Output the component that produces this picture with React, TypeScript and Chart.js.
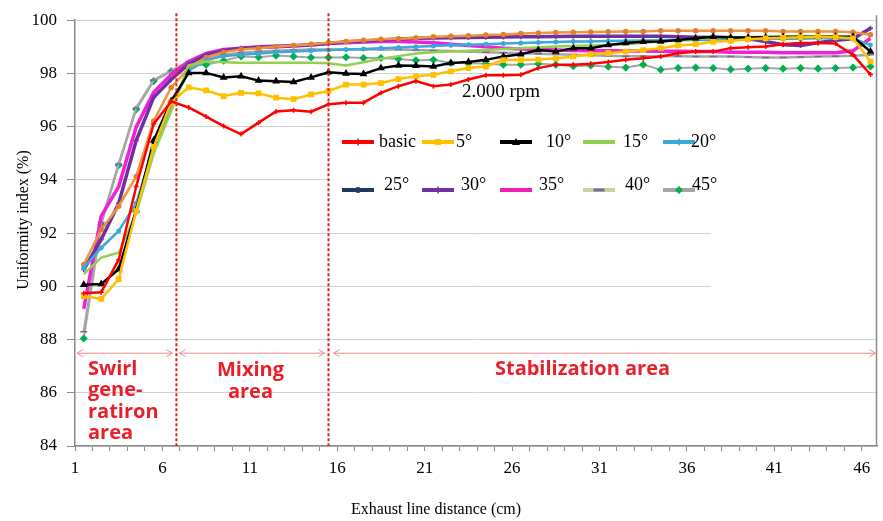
import React, { useEffect, useRef } from 'react';
import { Chart, registerables } from 'chart.js';

Chart.register(...registerables);

// ---------- data ----------
const DISTANCE = [1, 2, 3, 4, 5, 6, 7, 8, 9, 10, 11, 12, 13, 14, 15, 16, 17, 18, 19, 20, 21, 22, 23, 24, 25, 26, 27, 28, 29, 30, 31, 32, 33, 34, 35, 36, 37, 38, 39, 40, 41, 42, 43, 44, 45, 46];
const X_TICK_LABELS = [1, 6, 11, 16, 21, 26, 31, 36, 41, 46];
const Y_MIN = 84;
const Y_MAX = 100;
const Y_STEP = 2;

const SERIES_NAMES = ['basic', '5°', '10°', '15°', '20°', '25°', '30°', '35°', '40°', '45°'];

const BASIC = [89.74, 89.78, 91.0, 93.75, 96.1, 96.95, 96.72, 96.38, 96.02, 95.72,
  96.15, 96.57, 96.62, 96.56, 96.84, 96.9, 96.9, 97.27, 97.52, 97.71,
  97.52, 97.58, 97.77, 97.93, 97.93, 97.95, 98.2, 98.33, 98.33, 98.36,
  98.43, 98.51, 98.57, 98.64, 98.76, 98.82, 98.82, 98.95, 98.98, 99.01,
  99.1, 99.14, 99.14, 99.12, 98.7, 97.96];
const DEG5 = [89.63, 89.53, 90.27, 92.83, 95.24, 96.91, 97.48, 97.36, 97.15, 97.27,
  97.25, 97.09, 97.03, 97.21, 97.34, 97.58, 97.58, 97.64, 97.79, 97.89,
  97.95, 98.08, 98.2, 98.26, 98.5, 98.5, 98.52, 98.57, 98.64, 98.72,
  98.76, 98.82, 98.88, 98.95, 99.05, 99.1, 99.19, 99.22, 99.28, 99.32,
  99.34, 99.36, 99.38, 99.36, 99.32, 98.45];
const DEG10 = [90.06, 90.09, 90.64, 92.87, 95.48, 96.96, 98.02, 98.02, 97.85, 97.89,
  97.73, 97.71, 97.68, 97.85, 98.04, 98.0, 97.98, 98.2, 98.3, 98.29,
  98.26, 98.39, 98.43, 98.51, 98.64, 98.72, 98.88, 98.82, 98.95, 98.95,
  99.07, 99.14, 99.19, 99.2, 99.26, 99.32, 99.38, 99.35, 99.35, 99.36,
  99.37, 99.38, 99.38, 99.38, 99.38, 98.82];
const DEG15 = [90.46, 91.08, 91.26, 92.75, 94.98, 96.59, 98.3, 98.45, 98.42, 98.4,
  98.4, 98.4, 98.4, 98.4, 98.38, 98.3, 98.42, 98.55, 98.65, 98.75,
  98.8, 98.82, 98.85, 98.88, 98.92, 98.95, 98.98, 99.01, 99.03, 99.05,
  99.07, 99.1, 99.15, 99.2, 99.25, 99.3, 99.32, 99.35, 99.37, 99.38,
  99.4, 99.4, 99.4, 99.4, 99.35, 98.82];
const DEG20 = [90.7, 91.45, 92.08, 93.12, 95.24, 96.73, 98.1, 98.5, 98.65, 98.7,
  98.75, 98.8, 98.82, 98.85, 98.88, 98.9, 98.92, 98.95, 98.97, 99.0,
  99.03, 99.06, 99.08, 99.1, 99.12, 99.14, 99.16, 99.18, 99.2, 99.2,
  99.22, 99.23, 99.24, 99.25, 99.25, 99.26, 99.27, 99.28, 99.28, 99.3,
  99.3, 99.3, 99.32, 99.32, 99.3, 99.07];
const DEG25 = [90.82, 92.13, 93.01, 94.13, 96.21, 97.47, 98.2, 98.6, 98.8, 98.9,
  98.95, 99.0, 99.05, 99.1, 99.15, 99.2, 99.25, 99.28, 99.3, 99.33,
  99.38, 99.4, 99.42, 99.44, 99.46, 99.5, 99.52, 99.54, 99.55, 99.56,
  99.57, 99.58, 99.58, 99.6, 99.6, 99.6, 99.6, 99.6, 99.6, 99.6,
  99.58, 99.58, 99.58, 99.58, 99.55, 99.45];
const DEG30 = [90.63, 91.76, 93.12, 95.48, 97.1, 97.77, 98.35, 98.7, 98.85, 98.95,
  98.97, 99.0, 99.03, 99.07, 99.12, 99.19, 99.22, 99.26, 99.29, 99.32,
  99.33, 99.34, 99.35, 99.36, 99.37, 99.38, 99.38, 99.39, 99.4, 99.4,
  99.4, 99.4, 99.4, 99.4, 99.38, 99.36, 99.35, 99.35, 99.3, 99.2,
  99.08, 99.05, 99.15, 99.25, 99.3, 99.7];
const DEG35 = [89.15, 92.64, 93.75, 95.99, 97.29, 97.96, 98.45, 98.75, 98.9, 98.95,
  99.0, 99.02, 99.05, 99.08, 99.12, 99.15, 99.18, 99.2, 99.2, 99.18,
  99.15, 99.1, 99.05, 99.0, 98.95, 98.92, 98.9, 98.88, 98.86, 98.85,
  98.85, 98.84, 98.84, 98.83, 98.83, 98.82, 98.82, 98.8, 98.8, 98.8,
  98.78, 98.78, 98.78, 98.78, 98.85, 99.32];
const DEG40 = [88.29, 92.4, 94.6, 96.7, 97.75, 98.1, 98.45, 98.6, 98.7, 98.78,
  98.82, 98.85, 98.88, 98.9, 98.9, 98.9, 98.9, 98.9, 98.9, 98.88,
  98.86, 98.84, 98.82, 98.8, 98.78, 98.76, 98.74, 98.72, 98.7, 98.68,
  98.66, 98.65, 98.65, 98.65, 98.65, 98.64, 98.64, 98.64, 98.62, 98.6,
  98.6, 98.62, 98.64, 98.65, 98.66, 98.7];
const DEG45 = [88.04, 92.32, 94.55, 96.65, 97.71, 98.08, 98.3, 98.33, 98.48, 98.64,
  98.61, 98.67, 98.64, 98.6, 98.6, 98.61, 98.58, 98.58, 98.54, 98.49,
  98.51, 98.39, 98.39, 98.36, 98.33, 98.33, 98.36, 98.33, 98.27, 98.3,
  98.25, 98.22, 98.33, 98.14, 98.2, 98.22, 98.2, 98.15, 98.18, 98.2,
  98.18, 98.2, 98.18, 98.2, 98.22, 98.26];

const SERIES_VALUES = [BASIC, DEG5, DEG10, DEG15, DEG20, DEG25, DEG30, DEG35, DEG40, DEG45];

// area boundaries (in x-axis units) and labels
const AREA_BOUNDS = [6.3, 15.0];
const RPM_LABEL = '2.000 rpm';

// ---------- styles ----------
const LINE_COLORS = ['#ff0000', '#ffc000', '#000000', '#92d050', '#3aa8d8', '#f0953f', '#7030a0', '#f020d8', '#a6a6a6', '#a6a6a6'];
const LEGEND_COLORS = ['#ff0000', '#ffc000', '#000000', '#92d050', '#3aa8d8', '#1f3864', '#7030a0', '#f020b0', '#c3d69b', '#a6a6a6'];
const POINT_COLORS = ['#ff0000', '#ffc000', '#000000', '#92d050', '#3aa8d8', '#e07f30', '#7030a0', '#f020d8', '#8064a2', '#00b050'];
const POINT_STYLES = ['cross', 'rect', 'triangle', 'circle', 'star', 'circle', 'cross', 'circle', 'line', 'rectRot'];
const POINT_RADII = [2.5, 3, 3, 0, 2.5, 2, 2.5, 0, 3.5, 3];
const LINE_WIDTHS = [2.5, 2.5, 2.5, 2.5, 2.5, 2.5, 3.5, 3.5, 2.5, 2];

const SERIF = "'Liberation Serif', 'Times New Roman', serif";
const SANS = "'Open Sans', 'Noto Sans', sans-serif";

function drawMarker(ctx: CanvasRenderingContext2D, style: string, x: number, y: number, r: number, color: string) {
  if (r <= 0) return;
  ctx.save();
  ctx.fillStyle = color;
  ctx.strokeStyle = color;
  ctx.lineWidth = 1.5;
  ctx.beginPath();
  if (style === 'rect') {
    ctx.fillRect(x - r, y - r, 2 * r, 2 * r);
  } else if (style === 'triangle') {
    ctx.moveTo(x, y - r - 1);
    ctx.lineTo(x + r + 1, y + r);
    ctx.lineTo(x - r - 1, y + r);
    ctx.closePath();
    ctx.fill();
  } else if (style === 'rectRot') {
    ctx.moveTo(x, y - r - 1);
    ctx.lineTo(x + r + 1, y);
    ctx.lineTo(x, y + r + 1);
    ctx.lineTo(x - r - 1, y);
    ctx.closePath();
    ctx.fill();
  } else if (style === 'cross' || style === 'star') {
    ctx.moveTo(x - r - 1, y);
    ctx.lineTo(x + r + 1, y);
    ctx.moveTo(x, y - r - 1);
    ctx.lineTo(x, y + r + 1);
    ctx.stroke();
  } else if (style === 'line') {
    ctx.lineWidth = 3;
    ctx.moveTo(x - r - 2, y);
    ctx.lineTo(x + r + 2, y);
    ctx.stroke();
  } else {
    ctx.arc(x, y, r + 1, 0, Math.PI * 2);
    ctx.fill();
  }
  ctx.restore();
}

function arrowHead(ctx: CanvasRenderingContext2D, x: number, y: number, dir: number) {
  ctx.moveTo(x - dir * 6, y - 3.5);
  ctx.lineTo(x, y);
  ctx.lineTo(x - dir * 6, y + 3.5);
}

const overlayPlugin = {
  id: 'overlay',
  beforeDatasetsDraw(chart: any) {
    const ctx: CanvasRenderingContext2D = chart.ctx;
    ctx.save();
    ctx.fillStyle = '#ffffff';
    // legend box and the blank patch to its right (as in the reference)
    ctx.fillRect(330, 124, 381, 88);
    ctx.fillRect(711, 120, chart.chartArea.right - 712, 215);
    ctx.restore();
  },
  afterDatasetsDraw(chart: any) {
    const ctx: CanvasRenderingContext2D = chart.ctx;
    const xs = chart.scales.x;
    const ca = chart.chartArea;
    ctx.save();

    // right frame line
    ctx.strokeStyle = '#8a8a8a';
    ctx.lineWidth = 1.5;
    ctx.beginPath();
    ctx.moveTo(ca.right - 1, ca.top - 5);
    ctx.lineTo(ca.right - 1, ca.bottom);
    ctx.stroke();

    // dotted boundaries
    const bx = AREA_BOUNDS.map((b) => xs.getPixelForValue(b));
    ctx.strokeStyle = '#e02020';
    ctx.lineWidth = 2;
    ctx.setLineDash([3, 2]);
    bx.forEach((px) => {
      ctx.beginPath();
      ctx.moveTo(px, ca.top - 7);
      ctx.lineTo(px, ca.bottom);
      ctx.stroke();
    });
    ctx.setLineDash([]);

    // arrows
    const ay = ca.top + 333;
    const spans = [
      [ca.left + 2, bx[0] - 4],
      [bx[0] + 3, bx[1] - 4],
      [bx[1] + 5, ca.right - 2],
    ];
    ctx.strokeStyle = '#f08a8a';
    ctx.lineWidth = 1;
    spans.forEach(([a, b]) => {
      ctx.beginPath();
      ctx.moveTo(a, ay);
      ctx.lineTo(b, ay);
      arrowHead(ctx, a, ay, -1);
      arrowHead(ctx, b, ay, 1);
      ctx.stroke();
    });

    // area labels
    ctx.fillStyle = '#e8202a';
    ctx.font = `bold 20px ${SANS}`;
    ctx.textBaseline = 'middle';
    ctx.textAlign = 'left';
    ['Swirl', 'gene-', 'ratiron', 'area'].forEach((t, i) => {
      ctx.fillText(t, ca.left + 13, ca.top + 349 + i * 21.5);
    });
    ctx.textAlign = 'center';
    const mixC = (bx[0] + bx[1]) / 2 - 2;
    ctx.fillText('Mixing', mixC, ca.top + 350);
    ctx.fillText('area', mixC, ca.top + 372);
    ctx.fillText('Stabilization area', bx[1] + 254, ca.top + 349);

    // rpm label
    ctx.fillStyle = '#000';
    ctx.font = `19px ${SERIF}`;
    ctx.textAlign = 'center';
    ctx.fillText(RPM_LABEL, 501, 92);

    // legend
    const colX = [342, 422, 500, 583, 663];
    const textX = [[379, 456, 546, 623, 691], [384, 461, 539, 625, 692]];
    const rowY = [142, 190];
    const textY = [142, 185];
    ctx.font = `18px ${SERIF}`;
    ctx.textAlign = 'left';
    SERIES_NAMES.forEach((name, i) => {
      const row = Math.floor(i / 5);
      const col = i % 5;
      const x0 = colX[col];
      const y0 = rowY[row];
      ctx.strokeStyle = LEGEND_COLORS[i];
      ctx.lineWidth = 4;
      ctx.beginPath();
      ctx.moveTo(x0, y0);
      ctx.lineTo(x0 + 32, y0);
      ctx.stroke();
      const mc = i === 5 ? LEGEND_COLORS[i] : POINT_COLORS[i];
      drawMarker(ctx, POINT_STYLES[i], x0 + 16, y0, Math.max(POINT_RADII[i], 0), mc);
      ctx.fillStyle = '#000';
      ctx.fillText(name, textX[row][col], textY[row]);
    });

    // axis titles
    ctx.font = `16px ${SERIF}`;
    ctx.textAlign = 'center';
    ctx.fillText('Exhaust line distance (cm)', 436, 510);
    ctx.translate(24, 220);
    ctx.rotate(-Math.PI / 2);
    ctx.fillText('Uniformity index (%)', 0, 0);

    ctx.restore();
  },
};

export default function App() {
  const ref = useRef<HTMLCanvasElement>(null);
  useEffect(() => {
    document.body.style.margin = '0';
    const datasets = SERIES_NAMES.map((name, i) => ({
      label: name,
      data: DISTANCE.map((d, j) => ({ x: d, y: SERIES_VALUES[i][j] })),
      borderColor: LINE_COLORS[i],
      backgroundColor: POINT_COLORS[i],
      pointBorderColor: POINT_COLORS[i],
      pointBackgroundColor: POINT_COLORS[i],
      pointStyle: POINT_STYLES[i] as any,
      pointRadius: POINT_RADII[i],
      pointBorderWidth: 1.5,
      borderWidth: LINE_WIDTHS[i],
      tension: 0,
      fill: false,
    }));
    const chart = new Chart(ref.current as HTMLCanvasElement, {
      type: 'line',
      data: { datasets },
      options: {
        responsive: false,
        animation: false,
        layout: { padding: { left: 0, top: 15, right: 2, bottom: 0 } },
        plugins: { legend: { display: false }, tooltip: { enabled: false } },
        scales: {
          x: {
            type: 'linear',
            min: 0.5,
            max: 46.4,
            afterBuildTicks: (scale: any) => {
              scale.ticks = DISTANCE.map((d) => ({ value: d - 0.5 }));
            },
            afterFit: (scale: any) => {
              scale.height = 75;
            },
            grid: { drawOnChartArea: false, tickLength: 5, tickColor: '#8a8a8a', tickWidth: 1 },
            border: { color: '#8a8a8a', width: 1.5 },
            ticks: {
              autoSkip: false,
              maxRotation: 0,
              padding: 7,
              color: '#000',
              font: { family: SERIF, size: 17 },
              callback: (v: any) => {
                const k = Math.round(Number(v) + 0.5);
                return X_TICK_LABELS.includes(k) ? String(k) : '';
              },
            },
          },
          y: {
            min: Y_MIN,
            max: Y_MAX,
            afterFit: (scale: any) => {
              scale.width = 75;
            },
            grid: { color: '#d2d2d2', lineWidth: 1, tickLength: 8, tickColor: '#8a8a8a' },
            border: { color: '#8a8a8a', width: 1.5 },
            ticks: {
              stepSize: Y_STEP,
              padding: 10,
              color: '#000',
              font: { family: SERIF, size: 17 },
            },
          },
        },
      },
      plugins: [overlayPlugin],
    });
    return () => chart.destroy();
  }, []);
  return <canvas ref={ref} width={883} height={521} style={{ display: 'block', width: '883px', height: '521px' }} />;
}
